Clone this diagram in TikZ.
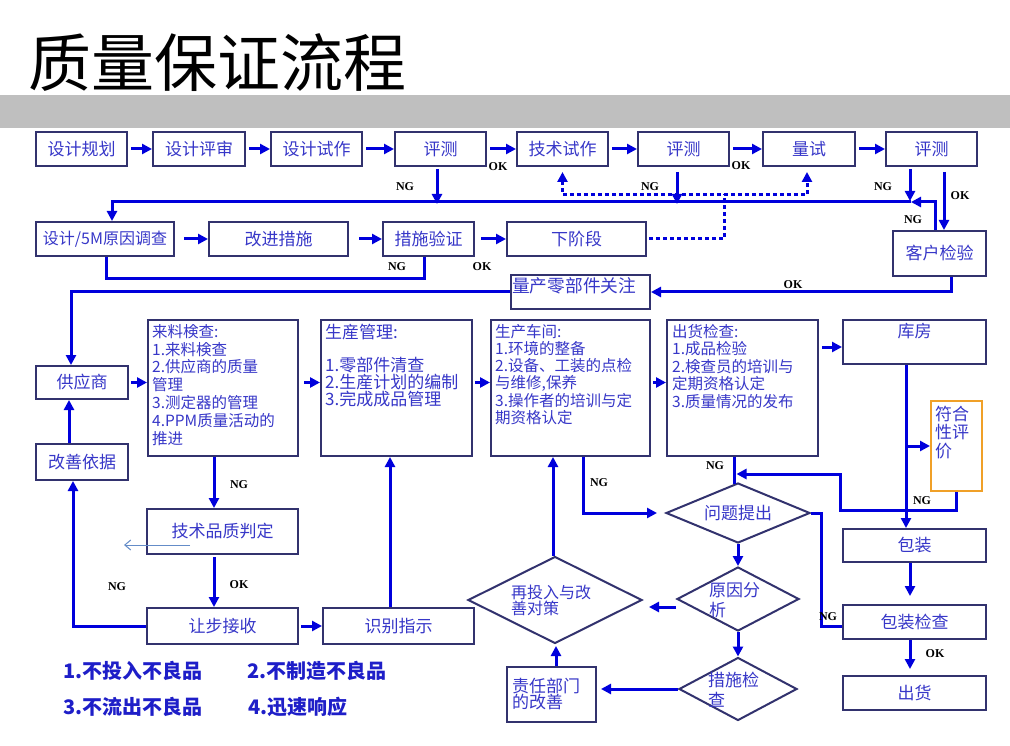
\documentclass[tikz,border=0pt]{standalone}
\usepackage{fontspec}
\setmainfont{Noto Sans CJK SC}
\newfontfamily\labfont{Liberation Serif}
\usetikzlibrary{arrows.meta,shapes.geometric,calc}
\definecolor{boxline}{RGB}{50,50,110}
\definecolor{boxtext}{RGB}{55,55,200}
\definecolor{flowblue}{RGB}{0,0,220}
\definecolor{bandgray}{RGB}{191,191,191}
\definecolor{orangeline}{RGB}{240,160,40}
\definecolor{thinblue}{RGB}{100,140,200}
\definecolor{listblue}{RGB}{30,30,200}
\tikzset{
  box/.style={draw=boxline, line width=2pt, inner sep=0pt, text=boxtext, font=\fontsize{17}{20}\selectfont},
  obox/.style={box, draw=orangeline},
  dia/.style={draw=boxline, line width=2pt, diamond, inner sep=0pt},
  btext/.style={text=boxtext, align=left, inner sep=0pt, font=\fontsize{15.5}{17.8}\selectfont},
  dtext/.style={text=boxtext, align=left, inner sep=0pt, font=\fontsize{17}{20}\selectfont},
  tag/.style={font=\labfont\bfseries\fontsize{12}{12}\selectfont, text=black, inner sep=0pt},
  ln/.style={draw=flowblue, line width=3pt},
  arr/.style={ln, -{Triangle[length=10pt,width=10pt]}},
  dots/.style={draw=flowblue, line width=3pt, dash pattern=on 4pt off 3pt},
  thinarr/.style={draw=thinblue, line width=1pt, -{Straight Barb[length=6pt,width=10pt]}},
  lst/.style={text=listblue, inner sep=0pt, anchor=west, font=\bfseries\fontsize{20}{20}\selectfont},
}
\begin{document}
\begin{tikzpicture}[x=1pt,y=-1pt]
\useasboundingbox (0,0) rectangle (1010,746);
\fill[white] (0,0) rectangle (1010,746);
\fill[bandgray] (0,95) rectangle (1010,128);
\node[anchor=west, inner sep=0pt, font=\fontsize{63}{63}\selectfont] (title) at (28,63) {质量保证流程};

% row 1
\node[box, minimum width=91, minimum height=34] (d1) at (81.5,149) {设计规划};
\node[box, minimum width=92, minimum height=34] (d2) at (199,149) {设计评审};
\node[box, minimum width=91, minimum height=34] (d3) at (316.5,149) {设计试作};
\node[box, minimum width=91, minimum height=34] (e1) at (440.5,149) {评测};
\node[box, minimum width=91, minimum height=34] (t1) at (562.5,149) {技术试作};
\node[box, minimum width=91, minimum height=34] (e2) at (683.5,149) {评测};
\node[box, minimum width=92, minimum height=34] (q) at (809,149) {量试};
\node[box, minimum width=91, minimum height=34] (e3) at (931.5,149) {评测};

% row 2
\node[box, minimum width=138, minimum height=34, font=\fontsize{16}{19}\selectfont] (r1) at (105,239) {设计/5M原因调查};
\node[box, minimum width=139, minimum height=34] (r2) at (278.5,239) {改进措施};
\node[box, minimum width=91, minimum height=34] (r3) at (428.5,239) {措施验证};
\node[box, minimum width=139, minimum height=34] (r4) at (576.5,239) {下阶段};
\node[box, minimum width=93, minimum height=45] (kh) at (939.5,253.5) {客户检验};
\node[box, minimum width=139, minimum height=34, label={[dtext, font=\fontsize{17.7}{20}\selectfont, anchor=north west, xshift=2, yshift=-3]north west:量产零部件关注}] (mp) at (580.5,292) {};

% row 3
\node[box, minimum width=92, minimum height=33] (sup) at (82,382.5) {供应商};
\node[box, minimum width=92, minimum height=36] (gy) at (82,462) {改善依据};
\node[box, minimum width=150, minimum height=136, label={[btext, anchor=north west, xshift=5, yshift=-5]north west:{来料検查:\\1.来料検查\\2.供应商的质量\\管理\\3.测定器的管理\\4.PPM质量活动的\\推进}}] (ll) at (223,388) {};
\node[box, minimum width=151, minimum height=136, label={[btext, font=\fontsize{17}{16.8}\selectfont, anchor=north west, xshift=5, yshift=-4.5]north west:{生産管理:\\[17pt]1.零部件清查\\2.生産计划的编制\\3.完成成品管理}}] (sc) at (396.5,388) {};
\node[box, minimum width=159, minimum height=136, label={[btext, font=\fontsize{15.5}{17.2}\selectfont, anchor=north west, xshift=5, yshift=-5]north west:{生产车间:\\1.环境的整备\\2.设备、工装的点检\\与维修,保养\\3.操作者的培训与定\\期资格认定}}] (cj) at (570.5,388) {};
\node[box, minimum width=151, minimum height=136, label={[btext, font=\fontsize{15.5}{17.5}\selectfont, anchor=north west, xshift=6, yshift=-5]north west:{出货检查:\\1.成品检验\\2.検查员的培训与\\定期资格认定\\3.质量情况的发布}}] (ch) at (742.5,388) {};
\node[box, minimum width=143, minimum height=44, label={[dtext, anchor=north, yshift=-4]north:库房}] (kf) at (914.5,342) {};
\node[obox, minimum width=51, minimum height=90, label={[dtext, font=\fontsize{17}{18.5}\selectfont, anchor=north west, xshift=5, yshift=-5.5]north west:{符合\\性评\\价}}] (fh) at (956.5,446) {};

% right column
\node[box, minimum width=143, minimum height=33] (bz) at (914.5,545.5) {包装};
\node[box, minimum width=143, minimum height=34] (bj) at (914.5,622) {包装检查};
\node[box, minimum width=143, minimum height=34] (chh) at (914.5,693) {出货};

% left lower
\node[box, minimum width=151, minimum height=45] (jp) at (222.5,531.5) {技术品质判定};
\node[box, minimum width=151, minimum height=36] (rb) at (222.5,626) {让步接收};
\node[box, minimum width=151, minimum height=36] (sb) at (398.5,626) {识别指示};
\node[box, minimum width=89, minimum height=55, label={[dtext, font=\fontsize{17}{16}\selectfont, anchor=west, xshift=6]west:{责任部门\\的改善}}] (zr) at (551.5,694.5) {};

% diamonds
\node[dia, minimum width=144, minimum height=60] (wt) at (738,513) {};
\node[dtext] (wtT) at (738,513) {问题提出};
\node[dia, minimum width=122, minimum height=64] (ya) at (738,599) {};
\node[dtext, anchor=west] (yaT) at (709,600) {原因分\\析};
\node[dia, minimum width=118, minimum height=63] (cs) at (738,689) {};
\node[dtext, anchor=west] (csT) at (708,690) {措施检\\查};
\node[dia, minimum width=174, minimum height=87] (zt) at (555,600) {};
\node[dtext, font=\fontsize{16}{14}\selectfont, anchor=west] (ztT) at (511,600) {再投入与改\\善对策};

% top row arrows
\foreach \a/\b in {d1/d2,d2/d3,d3/e1,e1/t1,t1/e2,e2/q,q/e3}
  \draw[arr] ([xshift=3]\a.east) -- (\b.west);

% NG returns to main line
\draw[arr] ([xshift=-3.5,yshift=-2]e1.south) -- ++(0,35);
\draw[arr] ([xshift=-6.5,yshift=-5]e2.south) -- ++(0,32);
\draw[arr] ([xshift=-21.5,yshift=-2]e3.south) -- ++(0,32);
\draw[arr] ([xshift=12.5,yshift=-5]e3.south) -- ([xshift=4.5]kh.north);
\draw[arr] ([xshift=-4.5]kh.north) -- ++(0,-28) -- ++(-24,0) coordinate (ngR);
\draw[arr] (ngR) -| ([xshift=7]r1.north);

% dotted next-stage feedback
\draw[dots] ([xshift=2]r4.east) -| ++(75,-45);
\draw[dots, {Triangle[length=10pt,width=10pt]}-{Triangle[length=10pt,width=10pt]}] ([yshift=-5]t1.south) -- ++(0,23) -- ++(244.5,0) -- ++(0,-23);

% row 2 arrows
\draw[arr] ([xshift=9]r1.east) -- (r2.west);
\draw[arr] ([xshift=10]r2.east) -- (r3.west);
\draw[arr] ([xshift=6]r3.east) -- (r4.west);
\draw[ln] ([xshift=-4.5]r3.south) -- ++(0,22) -| ([xshift=1]r1.south);

% mass production
\draw[arr] (mp.west) -| ([xshift=-11]sup.north);
\draw[arr] ([xshift=11.5]kh.south) |- (mp.east);

% row 3 arrows
\draw[arr] ([xshift=2]sup.east) -- (sup.east -| ll.west);
\draw[arr, shorten <=5pt] (ll.east |- sup.east) -- (sc.west |- sup.east);
\draw[arr, shorten <=2pt] (sc.east |- sup.east) -- (cj.west |- sup.east);
\draw[arr, shorten <=2pt] (cj.east |- sup.east) -- (ch.west |- sup.east);
\draw[arr] ($(kf.west)+(-20,5)$) -- ($(kf.west)+(0,5)$);
\draw[arr] ([xshift=-13]gy.north) -- ([xshift=-13]sup.south);

% incoming inspection branch
\draw[arr] ([xshift=-9]ll.south) -- ([xshift=-8.5]jp.north);
\draw[arr] ([xshift=-8.5,yshift=-2]jp.south) -- ([xshift=-8.5]rb.north);
\draw[arr] (rb.west) -| ([xshift=-9]gy.south);
\draw[arr] ([xshift=2]rb.east) -- (sb.west);
\draw[arr] ([xshift=-8.5]sb.north) -- ([xshift=-6.5]sc.south);
\coordinate (thinA) at (190,545);
\coordinate (thinB) at (124,545);
\draw[thinarr] (thinA) -- (thinB);

% workshop / problem loop
\draw[arr] ([xshift=12.5]cj.south) |- ([xshift=-8]wt.west);
\draw[arr] ([xshift=-2]zt.north) -- ([xshift=-17.5]cj.south);
\draw[ln] ([xshift=-8.5]ch.south) -- ++(0,27);
\draw[arr] (fh.south) -- ++(0,18) -- ++(-116,0) -- ++(0,-36) -- ++(-104,0);
\draw[arr] ([xshift=-8.5]kf.south) -- ([xshift=-8.5]bz.north);
\draw[arr] ($(fh.west)+(-25,0)$) -- (fh.west);
\draw[ln] (wt.east) -- ++(10,0) |- ([yshift=-4]bj.west);
\draw[arr] (wt.south) -- (ya.north);
\draw[arr] ($(ya.west)+(0,8)$) -- ($(zt.east)+(6,7)$);
\draw[arr] (ya.south) -- (cs.north);
\draw[arr, shorten >=4pt] (cs.west) -- (cs.west -| zr.east);
\draw[arr] ([xshift=4.5]zr.north) -- ++(0,-20);
\draw[arr] ([xshift=-4.5]bz.south) -- ([xshift=-4.5,yshift=8]bj.north);
\draw[arr] ([xshift=-4.5]bj.south) -- ([xshift=-4.5,yshift=6]chh.north);

% OK / NG tags
\node[tag] (k1) at (498,167) {OK};
\node[tag] (k2) at (741,166) {OK};
\node[tag] (k3) at (405,187) {NG};
\node[tag] (k4) at (650,187) {NG};
\node[tag] (k5) at (883,187) {NG};
\node[tag] (k6) at (960,196) {OK};
\node[tag] (k7) at (913,220) {NG};
\node[tag] (k8) at (397,267) {NG};
\node[tag] (k9) at (482,267) {OK};
\node[tag] (k10) at (793,285) {OK};
\node[tag] (k11) at (239,485) {NG};
\node[tag] (k12) at (239,585) {OK};
\node[tag] (k13) at (117,587) {NG};
\node[tag] (k14) at (599,483) {NG};
\node[tag] (k15) at (715,466) {NG};
\node[tag] (k16) at (922,501) {NG};
\node[tag] (k17) at (828,617) {NG};
\node[tag] (k18) at (935,654) {OK};

% principles
\node[lst] (l1) at (63,671) {1.不投入不良品};
\node[lst] (l2) at (247,671) {2.不制造不良品};
\node[lst] (l3) at (63,707) {3.不流出不良品};
\node[lst] (l4) at (248,707) {4.迅速响应};
\end{tikzpicture}
\end{document}
